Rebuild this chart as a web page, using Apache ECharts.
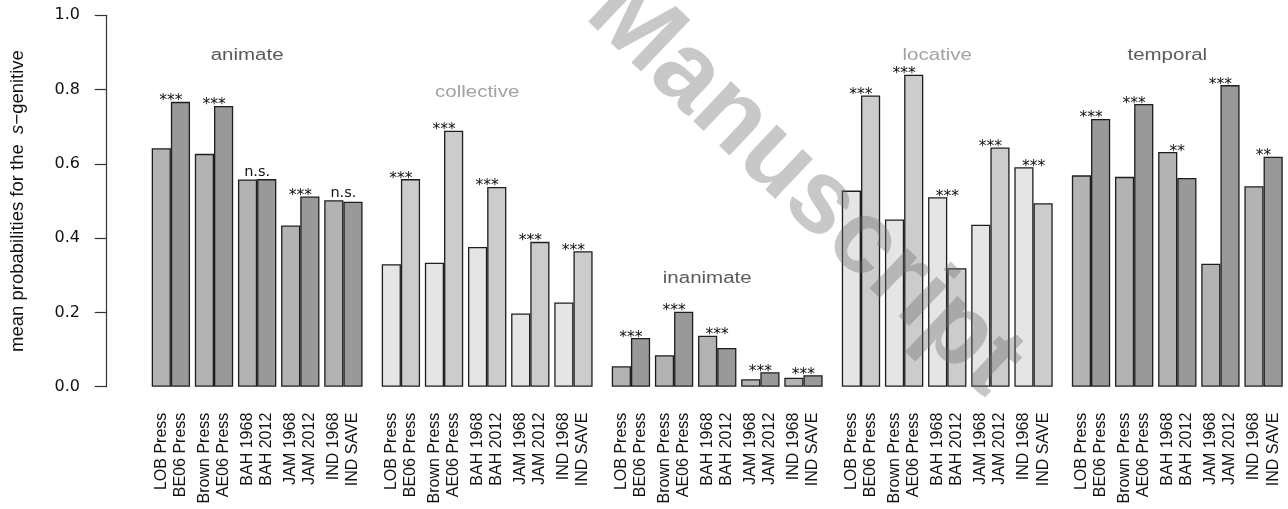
<!DOCTYPE html>
<html>
<head>
<meta charset="utf-8">
<script src="https://cdn.jsdelivr.net/npm/echarts@6/dist/echarts.min.js"></script>
<style>
html,body{margin:0;padding:0;background:#ffffff;}
#chart{width:1288px;height:509px;}
</style>
</head>
<body>
<div id="chart"></div>
<script>
// ---- data ----
const groupNames = ['animate', 'collective', 'inanimate', 'locative', 'temporal'];
const firstLabels = ['LOB Press', 'Brown Press', 'BAH 1968', 'JAM 1968', 'IND 1968'];
const secondLabels = ['BE06 Press', 'AE06 Press', 'BAH 2012', 'JAM 2012', 'IND SAVE'];

const animateFirst  = [0.642, 0.627, 0.558, 0.434, 0.502];
const animateSecond = [0.767, 0.756, 0.559, 0.512, 0.498];
const animateSig    = ['***', '***', 'n.s.', '***', 'n.s.'];

const collectiveFirst  = [0.330, 0.334, 0.376, 0.197, 0.227];
const collectiveSecond = [0.559, 0.689, 0.538, 0.390, 0.365];
const collectiveSig    = ['***', '***', '***', '***', '***'];

const inanimateFirst  = [0.055, 0.085, 0.137, 0.020, 0.024];
const inanimateSecond = [0.131, 0.202, 0.104, 0.039, 0.031];
const inanimateSig    = ['***', '***', '***', '***', '***'];

const locativeFirst  = [0.528, 0.450, 0.510, 0.436, 0.591];
const locativeSecond = [0.784, 0.840, 0.319, 0.644, 0.494];
const locativeSig    = ['***', '***', '***', '***', '***'];

const temporalFirst  = [0.569, 0.565, 0.632, 0.331, 0.540];
const temporalSecond = [0.721, 0.761, 0.562, 0.812, 0.619];
const temporalSig    = ['***', '***', '**', '***', '**'];

const titleLevels = [0.9, 0.8, 0.3, 0.9, 0.9];

// ---- styling ----
const firstValues  = [animateFirst, collectiveFirst, inanimateFirst, locativeFirst, temporalFirst];
const secondValues = [animateSecond, collectiveSecond, inanimateSecond, locativeSecond, temporalSecond];
const sigValues    = [animateSig, collectiveSig, inanimateSig, locativeSig, temporalSig];
const darkPair  = ['#b3b3b3', '#999999'];
const lightPair = ['#e5e5e5', '#cccccc'];
const groupColors = [darkPair, lightPair, darkPair, lightPair, darkPair];
const titleColors = ['#5a5a5a', '#a3a3a3', '#5a5a5a', '#a3a3a3', '#5a5a5a'];

const barW = 19.17;
const slotW = barW * 2.25;
const groupPitch = barW * 12;
const firstLeft = 151.7 - barW * 0.125;
const gridTop = 15.3;
const gridBottom = 509 - 386.7;

const pairLabels = firstLabels.map((a, k) => a + '\n' + secondLabels[k]);

const grids = [], xAxes = [], yAxes = [], series = [];
groupNames.forEach((name, i) => {
  grids.push({ left: firstLeft + i * groupPitch, width: slotW * 5, top: gridTop, bottom: gridBottom });
  xAxes.push({
    gridIndex: i, type: 'category', data: pairLabels,
    axisLine: { show: false }, axisTick: { show: false },
    axisLabel: {
      interval: 0, rotate: 90, margin: 26,
      fontFamily: '"Liberation Sans", Arial, sans-serif', fontSize: 16,
      lineHeight: barW, color: '#111'
    }
  });
  const y = {
    gridIndex: i, type: 'value', min: 0, max: 1, interval: 0.2,
    splitLine: { show: false }
  };
  if (i === 0) {
    Object.assign(y, {
      offset: firstLeft - 106.7,
      axisLine: { show: true, lineStyle: { color: '#333', width: 1.2 } },
      axisTick: { show: true, length: 12, lineStyle: { color: '#333', width: 1.2 } },
      axisLabel: {
        margin: 26.7, formatter: v => v.toFixed(1),
        fontFamily: '"DejaVu Sans", sans-serif', fontSize: 16, color: '#111'
      },
      name: 'mean probabilities for the  {it|s}\u2212genitive',
      nameLocation: 'middle', nameRotate: 90, nameGap: 79,
      nameTextStyle: {
        fontFamily: '"Liberation Sans", Arial, sans-serif', fontSize: 18.5, color: '#111',
        rich: { it: { fontStyle: 'italic', fontFamily: '"Liberation Sans", Arial, sans-serif', fontSize: 18.5, color: '#111' } }
      }
    });
  } else {
    Object.assign(y, { show: false });
  }
  yAxes.push(y);

  const barStyle = (c) => ({ color: c, borderColor: '#1e1e1e', borderWidth: 1.3 });
  series.push({
    type: 'bar', xAxisIndex: i, yAxisIndex: i, data: firstValues[i],
    barWidth: barW, barGap: '0%', itemStyle: barStyle(groupColors[i][0]),
    emphasis: { disabled: true }, silent: true
  });
  series.push({
    type: 'bar', xAxisIndex: i, yAxisIndex: i, data: secondValues[i],
    barWidth: barW, barGap: '0%', itemStyle: barStyle(groupColors[i][1]),
    emphasis: { disabled: true }, silent: true
  });
  const sig = sigValues[i];
  series.push({
    type: 'custom', xAxisIndex: i, yAxisIndex: i, silent: true, z: 5,
    data: firstValues[i].map((v, k) => [k, Math.max(v, secondValues[i][k])]),
    renderItem: (params, api) => {
      const p = api.coord([api.value(0), api.value(1)]);
      const t = sig[params.dataIndex];
      const star = t.charAt(0) === '*';
      return {
        type: 'text', x: p[0], y: p[1] + (star ? 7.5 : 0.5),
        style: {
          text: t, fill: '#111', font: (star ? '15.5px' : '14.5px') + ' "DejaVu Sans", sans-serif',
          textAlign: 'center', textVerticalAlign: 'bottom', align: 'center', verticalAlign: 'bottom'
        }
      };
    }
  });
  series.push({
    type: 'custom', xAxisIndex: i, yAxisIndex: i, silent: true, z: 5,
    data: [[2, titleLevels[i]]],
    renderItem: (params, api) => {
      const p = api.coord([api.value(0), api.value(1)]);
      return {
        type: 'text', x: p[0] - 10, y: p[1] + 3, scaleX: 1.28,
        style: {
          text: name, fill: titleColors[i], font: '16px "Liberation Sans", Arial, sans-serif',
          textAlign: 'center', textVerticalAlign: 'middle', align: 'center', verticalAlign: 'middle'
        }
      };
    }
  });
});

const chart = echarts.init(document.getElementById('chart'));
chart.setOption({
  animation: false,
  backgroundColor: '#ffffff',
  grid: grids, xAxis: xAxes, yAxis: yAxes, series: series,
  graphic: [{
    type: 'text', x: 603, y: -4, rotation: -43.5 * Math.PI / 180, z: 100, silent: true,
    style: {
      text: 'Manuscript', font: 'bold 104px "Liberation Sans", Arial, sans-serif',
      fill: 'rgba(107,107,100,0.37)', textAlign: 'left', textVerticalAlign: 'middle',
      align: 'left', verticalAlign: 'middle'
    }
  }]
});
</script>
</body>
</html>
